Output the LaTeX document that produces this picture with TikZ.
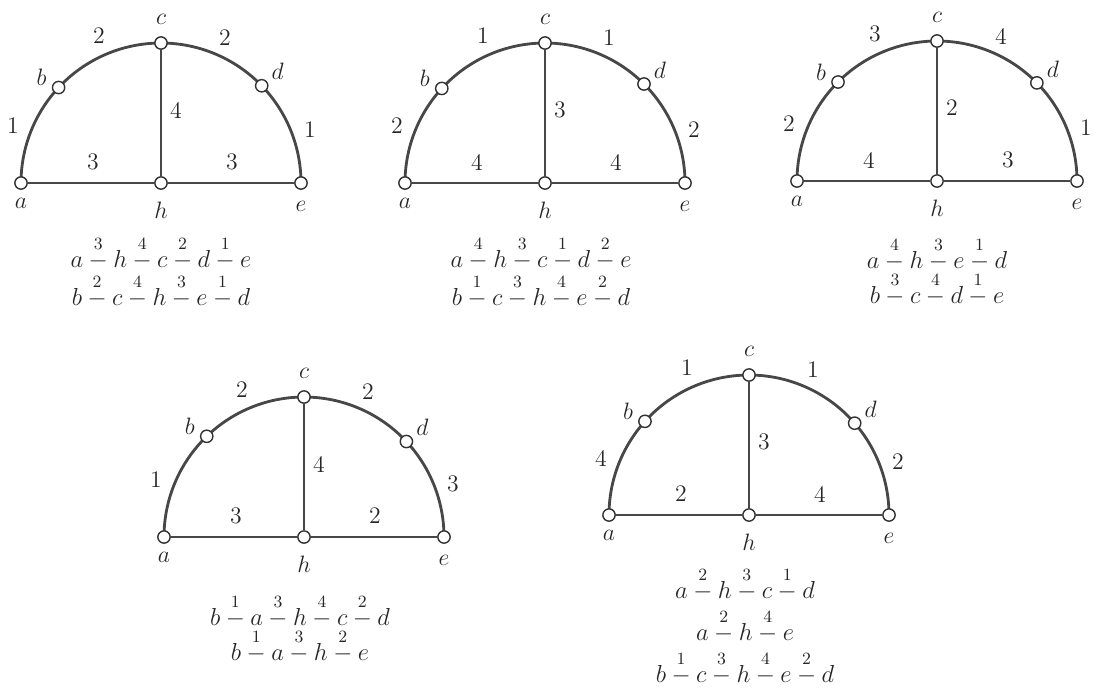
\RequirePackage{fix-cm}
\documentclass[tikz,border=0pt]{standalone}
\usetikzlibrary{backgrounds}
\newcommand\ed[1]{\mathbin{\mathop{-}\limits^{#1}}}
\tikzset{
  vtx/.style={circle,draw=black!80,fill=white,line width=0.8pt,inner sep=0pt,minimum size=7pt},
  edge/.style={draw=black!72,line width=1.6pt},
  lbl/.style={inner sep=0pt,text=black!85,font=\fontsize{13.5}{16}\selectfont},
  frm/.style={inner sep=0pt,anchor=base,text=black!85,font=\fontsize{14}{16}\selectfont},
}
% #1 id, #2 x, #3 y (pixels), #4 angle of b, #5 angle of d
\newcommand\grph[5]{%
  \begin{scope}[shift={(#2,-#3)}]
    \node[vtx] (h#1) at (0,0) {};
    \node[vtx] (a#1) at (-140,0) {};
    \node[vtx] (e#1) at (140,0) {};
    \node[vtx] (c#1) at (0,140) {};
    \node[vtx] (b#1) at (#4:140) {};
    \node[vtx] (d#1) at (#5:140) {};
    \begin{pgfonlayer}{background}
      \draw[edge] (a#1.center) arc[start angle=180,end angle=#4,radius=140];
      \draw[edge] (b#1.center) arc[start angle=#4,end angle=90,radius=140];
      \draw[edge] (c#1.center) arc[start angle=90,end angle=#5,radius=140];
      \draw[edge] (d#1.center) arc[start angle=#5,end angle=0,radius=140];
    \end{pgfonlayer}
    \draw[edge] (a#1) -- (h#1);
    \draw[edge] (h#1) -- (e#1);
    \draw[edge] (c#1) -- (h#1);
    \node[lbl] (la#1) at (-140,-20) {$a$};
    \node[lbl] (lh#1) at (0,-27) {$h$};
    \node[lbl] (le#1) at (140,-23) {$e$};
    \node[lbl] (lc#1) at (0,164) {$c$};
    \node[lbl] (lb#1) at ([shift={(-17,10)}]b#1.center) {$b$};
    \node[lbl] (ld#1) at ([shift={(16,14)}]d#1.center) {$d$};
  \end{scope}}
% edge labels: #1 x, #2 y, then ab bc cd de ch ah he
\newcommand\elabs[9]{%
  \begin{scope}[shift={(#1,-#2)}]
    \node[lbl] at (-148,57) {#3};
    \node[lbl] at (-62,147) {#4};
    \node[lbl] at (64,145) {#5};
    \node[lbl] at (149,53) {#6};
    \node[lbl] at (15,73) {#7};
    \node[lbl] at (-68,21) {#8};
    \node[lbl] at (71,21) {#9};
  \end{scope}}
\begin{document}
\begin{tikzpicture}[x=0.02cm,y=0.02cm]
\useasboundingbox (0,0) rectangle (1097,-691);
\grph{1}{161}{183}{137}{44}
\elabs{161}{183}{1}{2}{2}{1}{4}{3}{3}
\node[frm] (f1a) at (161,-267) {$a\ed{3}h\ed{4}c\ed{2}d\ed{1}e$};
\node[frm] (f1b) at (161,-305) {$b\ed{2}c\ed{4}h\ed{3}e\ed{1}d$};

\grph{2}{545}{183}{137.5}{45}
\elabs{545}{183}{2}{1}{1}{2}{3}{4}{4}
\node[frm] (f2a) at (541,-267) {$a\ed{4}h\ed{3}c\ed{1}d\ed{2}e$};
\node[frm] (f2b) at (541,-305) {$b\ed{1}c\ed{3}h\ed{4}e\ed{2}d$};

\grph{3}{937}{181}{135}{44.5}
\elabs{937}{181}{2}{3}{4}{1}{2}{4}{3}
\node[frm] (f3a) at (937,-268) {$a\ed{4}h\ed{3}e\ed{1}d$};
\node[frm] (f3b) at (937,-303) {$b\ed{3}c\ed{4}d\ed{1}e$};

\grph{4}{304}{537}{134}{43}
\elabs{304}{537}{1}{2}{2}{3}{4}{3}{2}
\node[frm] (f4a) at (300,-625) {$b\ed{1}a\ed{3}h\ed{4}c\ed{2}d$};
\node[frm] (f4b) at (300,-660) {$b\ed{1}a\ed{3}h\ed{2}e$};

\grph{5}{749}{515}{138}{41}
\elabs{749}{515}{4}{1}{1}{2}{3}{2}{4}
\node[frm] (f5a) at (745,-598) {$a\ed{2}h\ed{3}c\ed{1}d$};
\node[frm] (f5b) at (745,-640) {$a\ed{2}h\ed{4}e$};
\node[frm] (f5c) at (745,-682) {$b\ed{1}c\ed{3}h\ed{4}e\ed{2}d$};
\end{tikzpicture}
\end{document}
